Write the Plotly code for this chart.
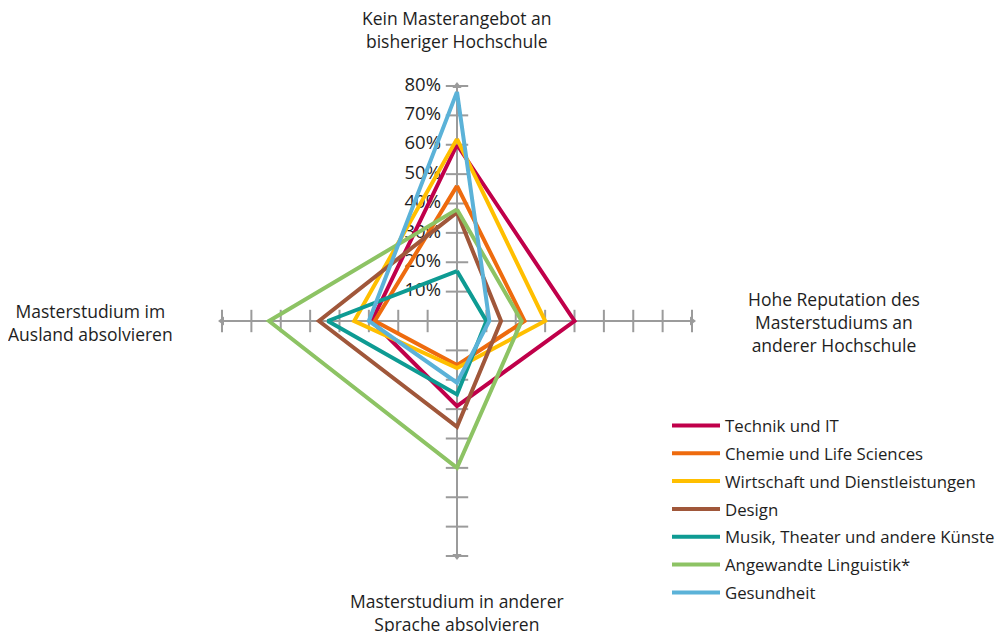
import plotly.graph_objects as go

categories = ["Kein Masterangebot an bisheriger Hochschule",
              "Hohe Reputation des Masterstudiums an anderer Hochschule",
              "Masterstudium in anderer Sprache absolvieren",
              "Masterstudium im Ausland absolvieren"]
category_labels = ["Kein Masterangebot an<br>bisheriger Hochschule",
                   "Hohe Reputation des<br>Masterstudiums an<br>anderer Hochschule",
                   "Masterstudium in anderer<br>Sprache absolvieren",
                   "Masterstudium im<br>Ausland absolvieren"]

series_names = ["Technik und IT", "Chemie und Life Sciences", "Wirtschaft und Dienstleistungen",
                "Design", "Musik, Theater und andere Künste", "Angewandte Linguistik*", "Gesundheit"]
series_colors = ["#C0004A", "#EE6B0E", "#FFBF00", "#A0573A", "#0E9B93", "#8DC364", "#5BB2D8"]

technik = [60, 40, 29, 29]
chemie = [46, 23, 15, 28]
wirtschaft = [62, 30, 16, 35]
design = [37, 15, 36, 47]
musik = [17, 10, 25, 44]
linguistik = [38, 22, 50, 64]
gesundheit = [78, 11, 21, 30]
series_values = [technik, chemie, wirtschaft, design, musik, linguistik, gesundheit]

tick_values = [10, 20, 30, 40, 50, 60, 70, 80]
tick_labels = ["10%", "20%", "30%", "40%", "50%", "60%", "70%", "80%"]

AX = "#9b9b9b"
FONT = "Open Sans"
TXT = "#1e1e1e"
FS = 17.5

W, H = 1008, 632
OFF = 8  # page body margin


def px(x):
    return (x - OFF) / W


def py(y):
    return 1 - (y - OFF) / H


fig = go.Figure()

# tick marks on all four arms
tick_symbols = {0: "line-ew", 1: "line-ns", 2: "line-ew", 3: "line-ns"}
arrow_symbols = {0: "triangle-up", 1: "triangle-right", 2: "triangle-down", 3: "triangle-left"}
for i, cat in enumerate(categories):
    fig.add_trace(go.Scatterpolar(
        r=tick_values, theta=[cat] * len(tick_values), mode="markers",
        marker=dict(symbol=tick_symbols[i], size=16, line=dict(width=2, color=AX), color=AX),
        showlegend=False, hoverinfo="skip"))
    fig.add_trace(go.Scatterpolar(
        r=[tick_values[-1]], theta=[cat], mode="markers",
        marker=dict(symbol=arrow_symbols[i], size=8, color=AX),
        showlegend=False, hoverinfo="skip"))

# percentage labels along the upper arm
fig.add_trace(go.Scatterpolar(
    r=tick_values, theta=[categories[0]] * len(tick_values), mode="markers+text",
    text=tick_labels, textposition="middle left",
    textfont=dict(size=18.5, family=FONT, color=TXT),
    marker=dict(size=24, color="rgba(0,0,0,0)"),
    showlegend=False, hoverinfo="skip"))

for name, color, vals in zip(series_names, series_colors, series_values):
    fig.add_trace(go.Scatterpolar(
        r=vals + [vals[0]], theta=categories + [categories[0]],
        mode="lines", name=name, legendgroup=name,
        line=dict(color=color, width=4)))

cx, cy, R = 457, 321, 235
fig.update_layout(
    width=W, height=H,
    margin=dict(l=0, r=0, t=0, b=0),
    paper_bgcolor="white",
    font=dict(family=FONT, size=FS, color=TXT),
    polar=dict(
        domain=dict(x=[px(cx - R), px(cx + R)], y=[py(cy + R), py(cy - R)]),
        bgcolor="white",
        angularaxis=dict(rotation=90, direction="clockwise", showline=False, showticklabels=False,
                         ticks="", showgrid=True, gridcolor=AX, gridwidth=2, layer="below traces"),
        radialaxis=dict(range=[0, 80], angle=90, showticklabels=False,
                        showline=False, showgrid=False, ticks="", layer="below traces"),
    ),
    legend=dict(x=px(667), y=py(408), xanchor="left", yanchor="top",
                font=dict(size=16.8, family=FONT, color=TXT), itemwidth=48,
                tracegroupgap=3, bgcolor="rgba(0,0,0,0)"),
    showlegend=True,
)

label_pos = [(457, 30), (834, 322), (457, 612), (90, 322)]
for lab, (x, y) in zip(category_labels, label_pos):
    fig.add_annotation(text=lab, x=px(x), y=py(y), xref="paper", yref="paper",
                       showarrow=False, xanchor="center", yanchor="middle", align="center",
                       font=dict(size=FS, family=FONT, color=TXT))

fig.add_annotation(text="©", x=px(1002), y=py(624), xref="paper", yref="paper",
                   showarrow=False, xanchor="left", yanchor="middle",
                   font=dict(size=12, family=FONT, color=TXT))

fig.write_html("out.html")
